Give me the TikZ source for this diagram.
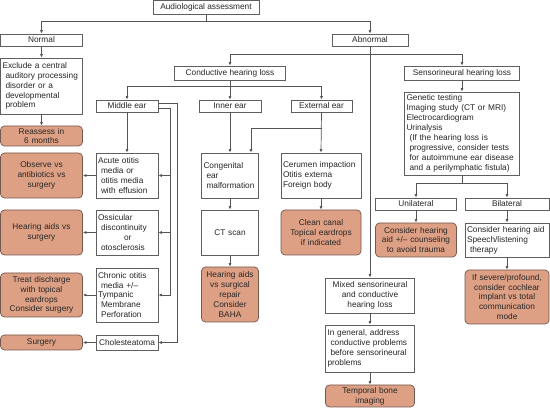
\documentclass[tikz,border=0pt]{standalone}
\usepackage{fontspec}
\setmainfont{Liberation Sans}
\usetikzlibrary{arrows.meta}
\definecolor{boxline}{RGB}{95,95,95}
\definecolor{wire}{RGB}{85,85,85}
\definecolor{salmon}{RGB}{222,160,132}
\definecolor{salmonline}{RGB}{115,88,78}
\newcommand{\ind}{\hspace*{3pt}}

\begin{document}
\begin{tikzpicture}[x=1pt, y=-1pt,
  font=\fontsize{8.3}{9.9}\selectfont,
  box/.style={draw=boxline, fill=white, line width=0.7pt, inner xsep=2pt, inner ysep=1pt, align=left, text=black!85},
  head/.style={box, align=center},
  result/.style={box, fill=salmon, draw=salmonline, rounded corners=4pt, align=center},
  arrow/.style={-{Latex[length=3.5pt,width=3pt]}, draw=wire, line width=0.7pt},
  link/.style={draw=wire, line width=0.7pt}
]
\useasboundingbox (0,0) rectangle (550,409);

\node[head, minimum width=106pt, minimum height=14pt] (aud) at (206,7.5) {Audiological assessment};
\node[head, minimum width=82pt, minimum height=12pt] (normal) at (41.5,40) {Normal};
\node[head, minimum width=76pt, minimum height=12pt] (abnormal) at (370,40) {Abnormal};

\node[box, text width=78pt, minimum height=56pt] (exclude) at (41.5,86) {Exclude a central\\\ind auditory processing\\\ind disorder or a\\\ind developmental\\\ind problem};
\node[result, text width=78pt, minimum height=20pt] (reassess) at (41.5,136) {Reassess in\\6 months};

\node[head, minimum width=111pt, minimum height=14pt] (conductive) at (230,73) {Conductive hearing loss};
\node[head, minimum width=115pt, minimum height=14pt] (sensori) at (462,73) {Sensorineural hearing loss};

\node[head, minimum width=62pt, minimum height=12pt] (middle) at (127,106) {Middle ear};
\node[head, minimum width=62pt, minimum height=12pt] (inner) at (230,106) {Inner ear};
\node[head, minimum width=61pt, minimum height=12pt] (external) at (321.5,106) {External ear};

\node[box, text width=58pt, minimum height=45pt] (acute) at (127,175.5) {Acute otitis\\\ind media or\\\ind otitis media\\\ind with effusion};
\node[box, text width=58pt, minimum height=45pt] (ossic) at (127,232.5) {Ossicular\\\ind discontinuity\\\hspace*{26pt}or\\\ind otosclerosis};
\node[box, text width=58pt, minimum height=54pt] (chronic) at (127,295) {Chronic otitis\\\ind media +/--\\Tympanic\\\ind Membrane\\\ind Perforation};
\node[head, minimum width=62pt, minimum height=15pt] (cholest) at (127,342.5) {Cholesteatoma};

\node[result, text width=78pt, minimum height=45pt] (observe) at (41.5,175.5) {Observe vs\\antibiotics vs\\surgery};
\node[result, text width=78pt, minimum height=45pt] (aidsurg) at (41.5,232.5) {Hearing aids vs\\surgery};
\node[result, text width=78pt, minimum height=44pt] (treat) at (41.5,295) {Treat discharge\\with topical\\eardrops\\Consider surgery};
\node[result, text width=78pt, minimum height=15pt] (surgery) at (41.5,342.5) {Surgery};

\node[box, text width=53pt, minimum height=45pt] (congen) at (230,175.5) {Congenital\\\ind ear\\\ind malformation};
\node[box, align=center, text width=53pt, minimum height=45pt] (ctscan) at (230,232.5) {CT scan};
\node[result, text width=53pt, minimum height=55pt] (repair) at (230,294.5) {Hearing aids\\vs surgical\\repair\\Consider\\BAHA};

\node[box, text width=76pt, minimum height=45pt] (cerumen) at (321,175.5) {Cerumen impaction\\Otitis externa\\Foreign body};
\node[result, text width=76pt, minimum height=45pt] (clean) at (321,232.5) {Clean canal\\Topical eardrops\\if indicated};

\node[box, text width=111pt, minimum height=83pt] (genetic) at (462,133.5) {Genetic testing\\Imaging study (CT or MRI)\\Electrocardiogram\\Urinalysis\\\ind(If the hearing loss is\\\ind progressive, consider tests\\\ind for autoimmune ear disease\\\ind and a perilymphatic fistula)};

\node[head, minimum width=81pt, minimum height=12pt] (unilat) at (416,204) {Unilateral};
\node[head, minimum width=84pt, minimum height=12pt] (bilat) at (507,204) {Bilateral};
\node[result, text width=77pt, minimum height=34pt] (counsel) at (416,240) {Consider hearing\\aid +/-- counseling\\to avoid trauma};
\node[box, text width=80pt, minimum height=34pt] (speech) at (507,240) {Consider hearing aid\\Speech/listening\\\ind therapy};
\node[result, text width=80pt, minimum height=54pt] (severe) at (507,297) {If severe/profound,\\consider cochlear\\implant vs total\\communication\\mode};

\node[box, align=center, text width=85pt, minimum height=35pt] (mixed) at (370,295.5) {Mixed sensorineural\\and conductive\\hearing loss};
\node[box, text width=85pt, minimum height=47pt] (address) at (370,348.5) {In general, address\\\ind conductive problems\\\ind before sensorineural\\problems};
\node[result, text width=85pt, minimum height=22pt] (temporal) at (370,396) {Temporal bone\\imaging};

\coordinate (top) at (206,21);
\coordinate (abus) at (370,54);
\coordinate (cbus) at (230,86);
\coordinate (xbus) at (321.5,128);
\coordinate (gbus) at (462,183);

\draw[arrow] (aud.south) -- (top) -| (normal.north);
\draw[arrow] (top) -| (abnormal.north);
\draw[arrow] (normal) -- (exclude);
\draw[arrow] (exclude) -- (reassess);

\draw[arrow] (abnormal.south) -- (mixed.north);
\draw[arrow] (abus) -| (conductive.north);
\draw[arrow] (abus) -| (sensori.north);

\draw[arrow] (conductive.south) -- (inner.north);
\draw[arrow] (cbus) -| (middle.north);
\draw[arrow] (cbus) -| (external.north);

\draw[arrow] (middle.south) -- (acute.north);
\draw[arrow] ([yshift=3pt]middle.east) -- ++(19,0) |- (cholest.east);
\draw[arrow] ([yshift=-2pt]middle.east) -- ++(12,0) coordinate (mbus) |- (chronic.east);
\draw[arrow] (mbus |- acute.east) -- (acute.east);
\draw[arrow] (mbus |- ossic.east) -- (ossic.east);
\draw[arrow] (acute.west) -- (observe.east);
\draw[arrow] (ossic.west) -- (aidsurg.east);
\draw[arrow] (chronic.west) -- (treat.east);
\draw[arrow] (cholest.west) -- (surgery.east);

\draw[arrow] (inner.south) -- (congen.north);
\draw[arrow] (xbus) -| ([xshift=21pt]congen.north);
\draw[arrow] (congen) -- (ctscan);
\draw[arrow] (ctscan) -- (repair);
\draw[arrow] (external.south) -- (cerumen.north);
\draw[arrow] (cerumen) -- (clean);

\draw[arrow] (sensori) -- (genetic);
\draw[link] (genetic.south) -- (gbus);
\draw[arrow] (gbus) -| (unilat.north);
\draw[arrow] (gbus) -| (bilat.north);
\draw[arrow] (unilat) -- (counsel);
\draw[arrow] (bilat) -- (speech);
\draw[arrow] (speech) -- (severe);

\draw[arrow] (mixed) -- (address);
\draw[arrow] (address) -- (temporal);
\end{tikzpicture}
\end{document}
